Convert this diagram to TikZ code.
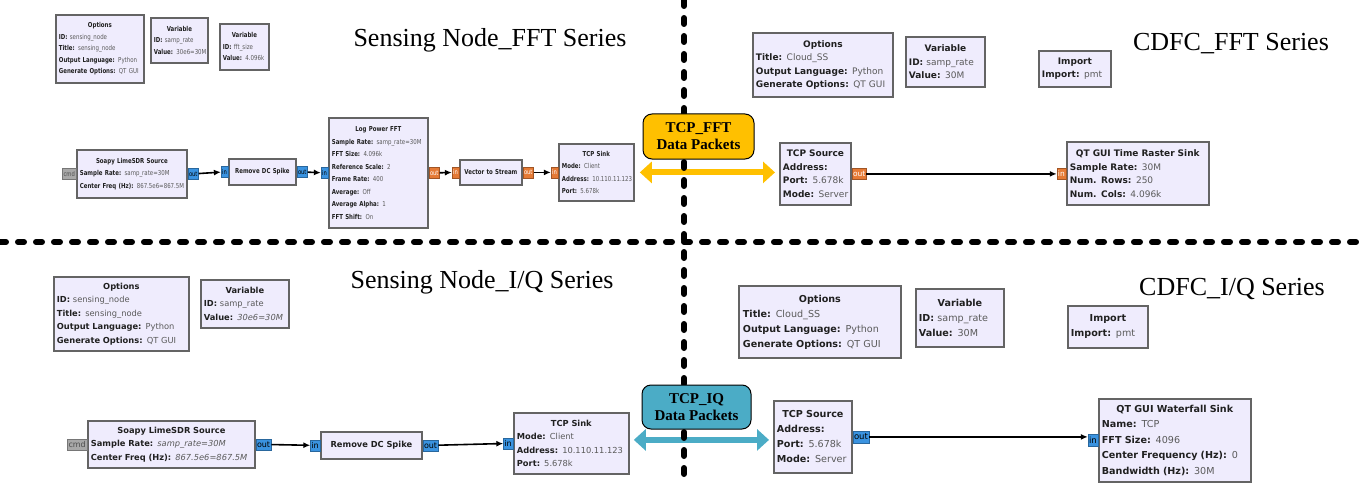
\documentclass[tikz,border=0pt]{standalone}
\usepackage{fontspec}
\setmainfont{Liberation Serif}
\newfontfamily\grcs[FakeStretch=0.8]{DejaVu Sans}
\newfontfamily\grc{DejaVu Sans}
\usetikzlibrary{arrows.meta, positioning}

\definecolor{blkfill}{HTML}{EFECFD}
\definecolor{blkline}{HTML}{646464}
\definecolor{valgray}{HTML}{5A5A5A}
\definecolor{keyblack}{HTML}{202020}
\definecolor{cplxblue}{HTML}{3A93E0}
\definecolor{fltorange}{HTML}{E57A35}
\definecolor{cmdgray}{HTML}{A8A8A8}
\definecolor{fftgold}{HTML}{FFC000}
\definecolor{iqteal}{HTML}{4BACC6}

\newcommand{\bt}[1]{\hfill\textbf{#1}\hfill\null}
\newcommand{\kv}[2]{\mbox{\textbf{#1:} {\color{valgray}#2}}}

\tikzset{
  blk/.style={draw=blkline, line width=1.8pt, fill=blkfill, anchor=north west,
    inner xsep=3pt, inner ysep=1pt, align=left, text=keyblack},
  grcport/.style={draw=#1!70!black, fill=#1, line width=0.4pt, inner xsep=1pt, inner ysep=0pt},
  conn/.style={line width=1.6pt, -{Latex[length=7pt,width=6pt]}},
  dbl/.style={line width=6pt, {Triangle[length=12pt,width=21pt]}-{Triangle[length=12pt,width=21pt]}},
  lbl/.style={draw=black, line width=1pt, rounded corners=9pt, align=center,
    font=\bfseries\fontsize{15}{17}\selectfont, inner sep=0pt},
  ttl/.style={font=\fontsize{26}{28}\selectfont},
  divider/.style={line width=6pt, line cap=round, dash pattern=on 6pt off 12pt},
}

\begin{document}
\begin{tikzpicture}[x=1pt,y=-1pt]
  \useasboundingbox (0,0) rectangle (1359,484);

  % sensing node, FFT
  \node[ttl] (sTtl) at (490,40) {Sensing Node\_FFT Series};
  \begin{scope}[every node/.append style={font=\grcs\fontsize{6.8}{11.5}\selectfont}]
    \node[blk, text width=82pt, minimum height=68pt] (sOpt) at (55,14)
      {\bt{Options}\\ \kv{ID}{sensing\_node}\\ \kv{Title}{sensing\_node}\\
       \kv{Output Language}{Python}\\ \kv{Generate Options}{QT GUI}};
    \node[blk, text width=51pt, minimum height=45pt] (sVar1) at (150,17)
      {\bt{Variable}\\ \kv{ID}{samp\_rate}\\ \kv{Value}{30e6=30M}};
    \node[blk, text width=43pt, minimum height=46pt] (sVar2) at (219,23)
      {\bt{Variable}\\ \kv{ID}{fft\_size}\\ \kv{Value}{4.096k}};
  \end{scope}
  \begin{scope}[every node/.append style={font=\grcs\fontsize{6.8}{12.5}\selectfont}]
    \node[blk, text width=104pt, minimum height=48pt] (sSrc) at (76,149)
      {\bt{Soapy LimeSDR Source}\\ \kv{Sample Rate}{samp\_rate=30M}\\
       \kv{Center Freq (Hz)}{867.5e6=867.5M}};
    \node[blk, text width=61pt, minimum height=26pt] (sDC) at (228,158) {\bt{Remove DC Spike}};
    \node[blk, text width=93pt, minimum height=110pt] (sFFT) at (328,117)
      {\bt{Log Power FFT}\\ \kv{Sample Rate}{samp\_rate=30M}\\ \kv{FFT Size}{4.096k}\\
       \kv{Reference Scale}{2}\\ \kv{Frame Rate}{400}\\ \kv{Average}{Off}\\
       \kv{Average Alpha}{1}\\ \kv{FFT Shift}{On}};
    \node[blk, text width=56pt, minimum height=25pt] (sV2S) at (459,159) {\bt{Vector to Stream}};
    \node[blk, text width=69pt, minimum height=57pt] (sSink) at (558,143)
      {\bt{TCP Sink}\\ \kv{Mode}{Client}\\ \kv{Address}{10.110.11.123}\\ \kv{Port}{5.678k}};
  \end{scope}
  \begin{scope}[every node/.append style={font=\grcs\fontsize{6.5}{7}\selectfont, minimum height=11pt}]
    \node[grcport=cmdgray, left=0pt of sSrc, text=black!70] (sCmd) {cmd};
    \node[grcport=cplxblue, right=0pt of sSrc] (sSrcOut) {out};
    \node[grcport=cplxblue, left=0pt of sDC] (sDCIn) {in};
    \node[grcport=cplxblue, right=0pt of sDC] (sDCOut) {out};
    \node[grcport=cplxblue, left=0pt of sFFT] (sFFTIn) {in};
    \node[grcport=fltorange, right=0pt of sFFT, text=white] (sFFTOut) {out};
    \node[grcport=fltorange, left=0pt of sV2S, text=white] (sV2SIn) {in};
    \node[grcport=fltorange, right=0pt of sV2S, text=white] (sV2SOut) {out};
    \node[grcport=fltorange, left=0pt of sSink, text=white] (sSinkIn) {in};
  \end{scope}
  \draw[conn] (sSrcOut) -- (sDCIn);
  \draw[conn] (sDCOut) -- (sFFTIn);
  \draw[conn] (sFFTOut) -- (sV2SIn);
  \draw[conn] (sV2SOut) -- (sSinkIn);

  % cloud, FFT
  \node[ttl] (cTtl) at (1231,44) {CDFC\_FFT Series};
  \begin{scope}[every node/.append style={font=\grc\fontsize{9}{13.5}\selectfont}]
    \node[blk, text width=134pt, minimum height=64pt] (cOpt) at (752,32)
      {\bt{Options}\\ \kv{Title}{Cloud\_SS}\\ \kv{Output Language}{Python}\\ \kv{Generate Options}{QT GUI}};
    \node[blk, text width=73pt, minimum height=50pt] (cVar) at (905,36)
      {\bt{Variable}\\ \kv{ID}{samp\_rate}\\ \kv{Value}{30M}};
    \node[blk, text width=66pt, minimum height=36pt] (cImp) at (1038,50)
      {\bt{Import}\\ \kv{Import}{pmt}};
    \node[blk, text width=65pt, minimum height=62pt] (cSrc) at (779,142)
      {\bt{TCP Source}\\ \textbf{Address:}\\ \kv{Port}{5.678k}\\ \kv{Mode}{Server}};
    \node[blk, text width=136pt, minimum height=63pt] (cRas) at (1066,141)
      {\bt{QT GUI Time Raster Sink}\\ \kv{Sample Rate}{30M}\\ \kv{Num. Rows}{250}\\ \kv{Num. Cols}{4.096k}};
  \end{scope}
  \node[grcport=fltorange, right=0pt of cSrc, text=white, font=\grc\fontsize{7.5}{8}\selectfont, minimum height=11pt] (cSrcOut) {out};
  \node[grcport=fltorange, left=0pt of cRas, text=white, font=\grc\fontsize{7.5}{8}\selectfont, minimum height=11pt] (cRasIn) {in};
  \draw[conn] (cSrcOut) -- (cSrcOut -| cRasIn.west);

  % sensing node, I/Q
  \node[ttl] (iTtl) at (482,282) {Sensing Node\_I/Q Series};
  \begin{scope}[every node/.append style={font=\grc\fontsize{8.3}{13.5}\selectfont}]
    \node[blk, text width=129pt, minimum height=74pt] (iOpt) at (53,276)
      {\bt{Options}\\ \kv{ID}{sensing\_node}\\ \kv{Title}{sensing\_node}\\
       \kv{Output Language}{Python}\\ \kv{Generate Options}{QT GUI}};
    \node[blk, text width=82pt, minimum height=48pt] (iVar) at (200,279)
      {\bt{Variable}\\ \kv{ID}{samp\_rate}\\ \kv{Value}{\textit{30e6=30M}}};
    \node[blk, text width=161pt, minimum height=47pt] (iSrc) at (87,420)
      {\bt{Soapy LimeSDR Source}\\ \kv{Sample Rate}{\textit{samp\_rate=30M}}\\
       \kv{Center Freq (Hz)}{\textit{867.5e6=867.5M}}};
    \node[blk, text width=95pt, minimum height=27pt] (iDC) at (320,431) {\bt{Remove DC Spike}};
    \node[blk, text width=109pt, minimum height=61pt] (iSink) at (513,412)
      {\bt{TCP Sink}\\ \kv{Mode}{Client}\\ \kv{Address}{10.110.11.123}\\ \kv{Port}{5.678k}};
  \end{scope}
  \begin{scope}[every node/.append style={font=\grc\fontsize{8}{9}\selectfont, minimum height=11pt}]
    \node[grcport=cmdgray, left=0pt of iSrc, text=black!70] (iCmd) {cmd};
    \node[grcport=cplxblue, right=0pt of iSrc] (iSrcOut) {out};
    \node[grcport=cplxblue, left=0pt of iDC] (iDCIn) {in};
    \node[grcport=cplxblue, right=0pt of iDC] (iDCOut) {out};
    \node[grcport=cplxblue, left=0pt of iSink] (iSinkIn) {in};
  \end{scope}
  \draw[conn] (iSrcOut) -- (iDCIn);
  \draw[conn] (iDCOut) -- (iSinkIn);

  % cloud, I/Q
  \node[ttl] (jTtl) at (1232,289) {CDFC\_I/Q Series};
  \begin{scope}[every node/.append style={font=\grc\fontsize{9.6}{15}\selectfont}]
    \node[blk, text width=154pt, minimum height=72pt, inner xsep=4pt] (jOpt) at (738,285)
      {\bt{Options}\\ \kv{Title}{Cloud\_SS}\\ \kv{Output Language}{Python}\\ \kv{Generate Options}{QT GUI}};
    \node[blk, text width=82pt, minimum height=58pt] (jVar) at (915,288)
      {\bt{Variable}\\ \kv{ID}{samp\_rate}\\ \kv{Value}{30M}};
    \node[blk, text width=74pt, minimum height=42pt] (jImp) at (1067,305)
      {\bt{Import}\\ \kv{Import}{pmt}};
    \node[blk, text width=72pt, minimum height=72pt] (jSrc) at (773,400)
      {\bt{TCP Source}\\ \textbf{Address:}\\ \kv{Port}{5.678k}\\ \kv{Mode}{Server}};
    \node[blk, text width=146pt, minimum height=83pt, font=\grc\fontsize{9.6}{15.5}\selectfont] (jWat) at (1098,398)
      {\bt{QT GUI Waterfall Sink}\\ \kv{Name}{TCP}\\ \kv{FFT Size}{4096}\\
       \kv{Center Frequency (Hz)}{0}\\ \kv{Bandwidth (Hz)}{30M}};
  \end{scope}
  \node[grcport=cplxblue, right=0pt of jSrc, font=\grc\fontsize{8.5}{9}\selectfont, minimum height=12pt] (jSrcOut) {out};
  \node[grcport=cplxblue, left=0pt of jWat, font=\grc\fontsize{8.5}{9}\selectfont, minimum height=12pt] (jWatIn) {in};
  \draw[conn] (jSrcOut) -- (jSrcOut -| jWatIn.west);

  % links sensing node <-> cloud
  \draw[dbl, draw=fftgold] ([xshift=5pt]sSink.east) -- ([xshift=-4pt]sSink.east -| cSrc.west);
  \draw[dbl, draw=iqteal] ([xshift=4pt,yshift=3.5pt]iSink.east) -- ([xshift=-4pt,yshift=3.5pt]iSink.east -| jSrc.west);

  \draw[divider] (684,0) -- (684,484);
  \draw[divider] (0,242) -- (1359,242);

  \node[lbl, fill=fftgold, minimum width=111pt, minimum height=45pt] (fftLbl) at (698.5,136.5) {TCP\_FFT\\Data Packets};
  \node[lbl, fill=iqteal, minimum width=109pt, minimum height=44pt] (iqLbl) at (696.5,407) {TCP\_IQ\\Data Packets};
\end{tikzpicture}
\end{document}
